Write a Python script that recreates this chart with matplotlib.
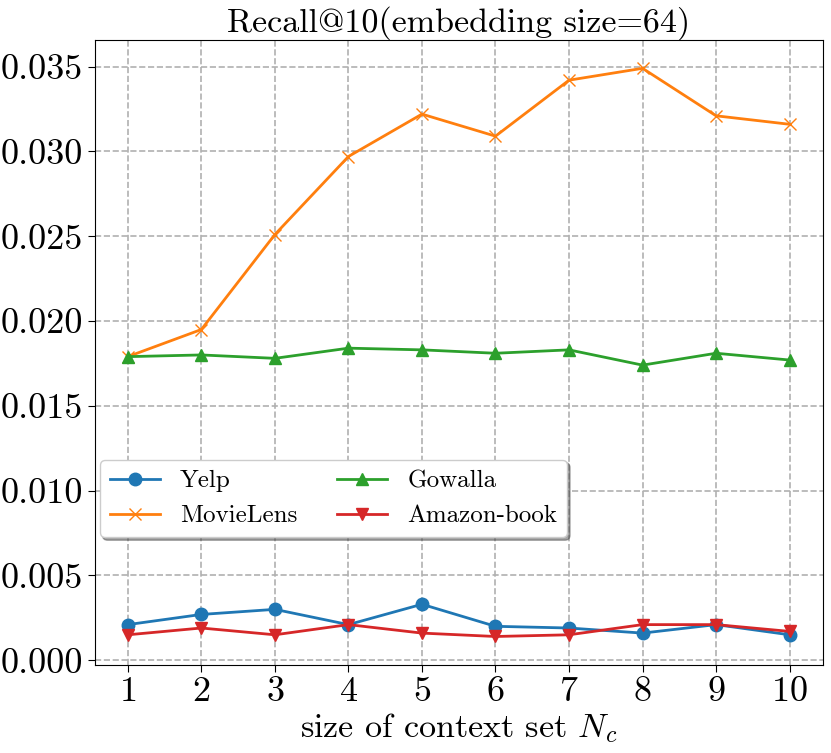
import matplotlib
matplotlib.use("Agg")
import matplotlib.pyplot as plt

plt.rcParams['font.family'] = 'serif'
plt.rcParams['font.serif'] = ['cmr10', 'DejaVu Serif']
plt.rcParams['mathtext.fontset'] = 'cm'
plt.rcParams['axes.formatter.use_mathtext'] = True

context_size = [1, 2, 3, 4, 5, 6, 7, 8, 9, 10]
yelp = [0.0021, 0.0027, 0.0030, 0.0021, 0.0033, 0.0020, 0.0019, 0.0016, 0.0021, 0.0015]
movielens = [0.0179, 0.0195, 0.0251, 0.0297, 0.0322, 0.0309, 0.0342, 0.0349, 0.0321, 0.0316]
gowalla = [0.0179, 0.0180, 0.0178, 0.0184, 0.0183, 0.0181, 0.0183, 0.0174, 0.0181, 0.0177]
amazon = [0.0015, 0.0019, 0.0015, 0.0021, 0.0016, 0.0014, 0.0015, 0.0021, 0.0021, 0.0017]

fig, ax = plt.subplots(figsize=(8.31, 7.53), dpi=100)

ax.plot(context_size, yelp, color='tab:blue', marker='o', markersize=9, linewidth=2, label='Yelp')
ax.plot(context_size, movielens, color='tab:orange', marker='x', markersize=9, linewidth=2, label='MovieLens')
ax.plot(context_size, gowalla, color='tab:green', marker='^', markersize=9, linewidth=2, label='Gowalla')
ax.plot(context_size, amazon, color='tab:red', marker='v', markersize=9, linewidth=2, label='Amazon-book')

ax.set_xticks(context_size)
ax.set_yticks([0.0, 0.005, 0.010, 0.015, 0.020, 0.025, 0.030, 0.035])
ax.set_yticklabels(['0.000', '0.005', '0.010', '0.015', '0.020', '0.025', '0.030', '0.035'])
ax.tick_params(labelsize=26, length=5)
ax.grid(True, linestyle='--', color='#b0b0b0', linewidth=1.2)

ax.set_title('Recall@10(embedding size=64)', fontsize=24.5)
ax.set_xlabel('size of context set $N_c$', fontsize=24.5, labelpad=2)
ax.legend(ncol=2, fontsize=18, shadow=True, loc='upper left',
          bbox_to_anchor=(0.007, 0.328), borderaxespad=0, columnspacing=1.6)

fig.subplots_adjust(left=0.114, right=0.990, top=0.947, bottom=0.117)
fig.savefig('out.png', dpi=100)
